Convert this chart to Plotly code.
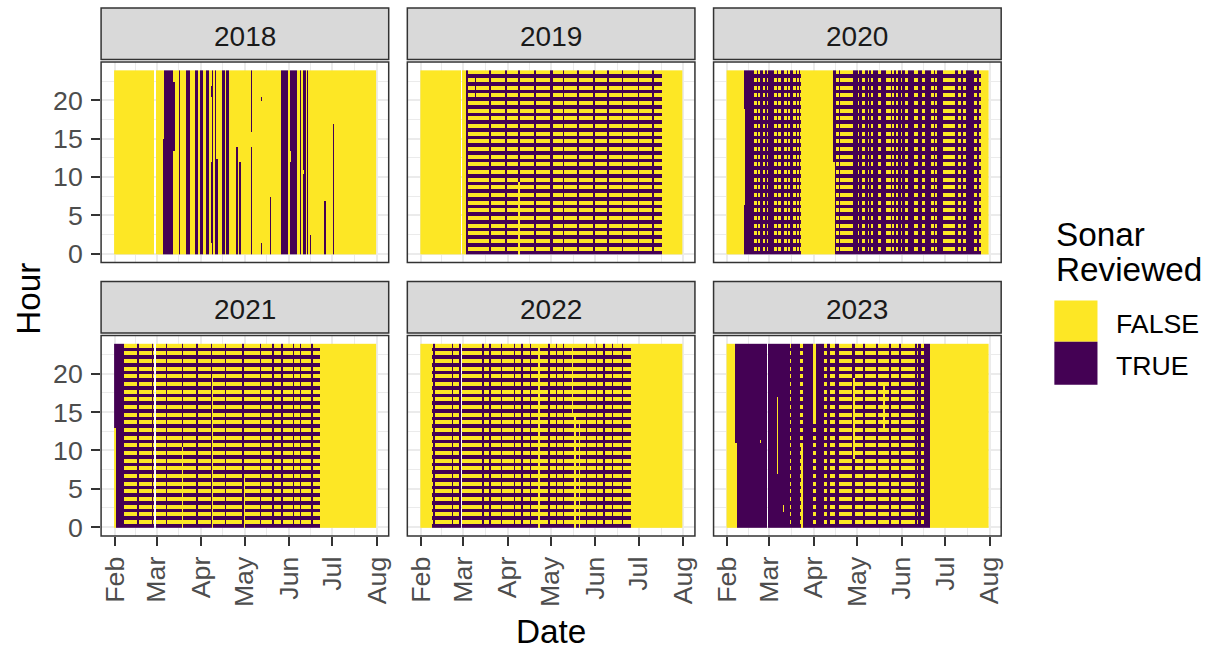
import numpy as np
import pandas as pd
import plotly.graph_objects as go

# ---------------------------------------------------------------------------
# Data: sonar review status per 10-minute file, Feb 1 - Jul 31 of each year
# ---------------------------------------------------------------------------
YEARS = [2018, 2019, 2020, 2021, 2022, 2023]
MONTH_TICKS = ["Feb", "Mar", "Apr", "May", "Jun", "Jul", "Aug"]
HOUR_TICKS = [0, 5, 10, 15, 20]
STATUS_LABELS = ["FALSE", "TRUE"]
STATUS_COLORS = ["#FDE725", "#440154"]

# Runs of days (first MM-DD, last MM-DD, mode); later runs override earlier ones.
#   "all"  - every file of the day reviewed
#   "half" - first half of every hour reviewed (:00, :10, :20)
#   "none" - nothing reviewed (the default)
DAY_RUNS = {
    2018: [
        ("03-07", "03-12", "all"), ("03-17", "03-17", "all"), ("03-22", "03-24", "all"),
        ("03-28", "03-29", "all"), ("04-01", "04-02", "all"), ("04-05", "04-06", "all"),
        ("04-09", "04-09", "all"), ("04-11", "04-11", "all"), ("04-16", "04-17", "all"),
        ("04-19", "04-20", "all"), ("05-27", "05-31", "all"), ("06-02", "06-06", "all"),
        ("06-09", "06-09", "all"), ("06-11", "06-12", "all"), ("06-14", "06-14", "all"),
    ],
    2019: [
        ("03-04", "07-17", "half"),
        ("03-04", "03-04", "all"), ("03-20", "03-20", "all"), ("03-31", "03-31", "all"),
        ("04-09", "04-09", "all"), ("04-20", "04-20", "all"), ("05-01", "05-02", "all"),
        ("05-10", "05-10", "all"), ("05-20", "05-20", "all"), ("05-31", "05-31", "all"),
        ("06-10", "06-10", "all"), ("06-20", "06-20", "all"), ("07-01", "07-01", "all"),
        ("07-11", "07-11", "all"),
    ],
    2020: [
        ("02-13", "03-23", "all"),
        ("02-20", "02-21", "half"), ("02-23", "02-23", "half"), ("02-26", "02-27", "half"),
        ("02-29", "02-29", "half"), ("03-05", "03-06", "half"), ("03-08", "03-09", "half"),
        ("03-12", "03-13", "half"), ("03-15", "03-15", "half"), ("03-18", "03-19", "half"),
        ("03-21", "03-21", "half"), ("03-23", "03-23", "half"),
        ("04-16", "07-26", "all"),
        ("04-17", "04-18", "half"), ("04-20", "04-28", "half"), ("05-02", "05-02", "half"),
        ("05-05", "05-06", "half"), ("05-09", "05-09", "half"), ("05-11", "05-12", "half"),
        ("05-16", "05-17", "half"), ("05-22", "05-24", "half"), ("05-26", "05-26", "half"),
        ("05-29", "05-29", "half"), ("06-01", "06-01", "half"), ("06-04", "06-05", "half"),
        ("06-10", "06-12", "half"), ("06-16", "06-17", "half"), ("06-22", "06-23", "half"),
        ("06-25", "06-25", "half"), ("06-30", "07-08", "half"), ("07-11", "07-12", "half"),
        ("07-14", "07-15", "half"), ("07-22", "07-23", "half"), ("07-25", "07-26", "half"),
    ],
    2021: [
        ("02-01", "02-07", "all"),
        ("02-08", "06-22", "half"),
        ("02-17", "02-17", "all"), ("02-27", "02-27", "all"), ("03-08", "03-08", "all"),
        ("03-19", "03-19", "all"), ("03-29", "03-29", "all"), ("04-08", "04-08", "all"),
        ("04-18", "04-18", "all"), ("04-30", "04-30", "all"), ("05-12", "05-12", "all"),
        ("05-21", "05-21", "all"), ("05-27", "05-27", "all"), ("06-04", "06-04", "all"),
        ("06-09", "06-09", "all"), ("06-17", "06-17", "all"),
    ],
    2022: [
        ("02-09", "06-25", "half"),
        ("02-10", "02-10", "all"), ("02-23", "02-23", "all"), ("02-28", "02-28", "all"),
        ("03-15", "03-15", "all"), ("03-20", "03-20", "all"), ("03-28", "03-28", "all"),
        ("04-06", "04-06", "all"), ("04-11", "04-11", "all"), ("04-17", "04-17", "all"),
        ("04-30", "04-30", "all"), ("05-05", "05-05", "all"), ("05-10", "05-10", "all"),
        ("05-26", "05-26", "all"), ("06-02", "06-02", "all"), ("06-07", "06-07", "all"),
        ("06-13", "06-13", "all"), ("06-20", "06-20", "all"),
        ("04-23", "04-23", "none"),
    ],
    2023: [
        ("02-08", "03-15", "all"), ("03-16", "03-16", "half"), ("03-17", "03-22", "all"),
        ("03-23", "03-24", "half"), ("03-25", "03-31", "all"), ("04-01", "04-02", "half"),
        ("04-03", "04-08", "all"), ("04-09", "04-10", "half"), ("04-11", "04-12", "all"),
        ("04-13", "04-15", "half"), ("04-16", "04-18", "all"), ("04-19", "04-27", "half"),
        ("04-28", "04-29", "all"), ("04-30", "05-05", "half"), ("05-06", "05-06", "all"),
        ("05-07", "05-14", "half"), ("05-15", "05-15", "all"), ("05-16", "05-23", "half"),
        ("05-24", "05-24", "all"), ("05-25", "05-30", "half"), ("05-31", "05-31", "all"),
        ("06-01", "06-10", "half"), ("06-11", "06-14", "all"), ("06-12", "06-12", "half"),
        ("06-15", "06-16", "half"), ("06-17", "06-20", "all"),
    ],
}

# Partial days: (MM-DD, from hour, to hour, reviewed)
HOUR_PATCHES = {
    2018: [
        ("03-06", 0, 15, True), ("03-13", 13.5, 22.5, True), ("04-08", 1.5, 12, True),
        ("04-08", 20.5, 22, True), ("04-12", 0, 12.5, True), ("04-26", 0, 14, True),
        ("04-28", 0, 12, True), ("05-06", 0, 14, True), ("05-06", 16, 24, True),
        ("05-13", 0, 1.5, True), ("05-13", 20, 20.5, True), ("05-19", 0, 7.5, True),
        ("06-02", 12, 13.5, False), ("06-11", 10.5, 11, False), ("06-16", 0, 2.5, True),
        ("06-26", 0, 7, True), ("07-02", 0, 17, True),
    ],
    2019: [("03-10", 20.5, 23, True), ("04-09", 0, 9.5, False)],
    2020: [("02-13", 6.5, 19, False), ("04-15", 12, 24, True)],
    2021: [("02-01", 0, 13, False), ("03-19", 0, 10.5, False), ("04-09", 0, 19.5, False),
           ("05-01", 0, 6.5, False)],
    2022: [("05-16", 14.5, 24, False), ("05-18", 0, 14.5, False), ("05-21", 0, 14, False)],
    2023: [("02-07", 11, 24, True), ("02-24", 11, 11.5, False), ("03-07", 7, 17, False),
           ("03-11", 2, 3, False), ("03-24", 0, 11, False), ("04-01", 13.5, 24, False),
           ("04-02", 13.5, 24, False), ("04-29", 9, 19.5, False), ("05-20", 13, 18.5, False)],
}

# ---------------------------------------------------------------------------
# Build the grids on a shared leap-year calendar (Feb 29 stays empty in other years)
# ---------------------------------------------------------------------------
REF_YEAR = 2020
season = pd.date_range(f"{REF_YEAR}-02-01", f"{REF_YEAR}-07-31", freq="D")
column_of = {d.strftime("%m-%d"): i for i, d in enumerate(season)}
day_pos = np.arange(len(season))
hours = np.arange(144) / 6.0                     # 10-minute files
first_half = (np.arange(144) % 6) < 3
month_pos = [(pd.Timestamp(f"{REF_YEAR}-{m:02d}-01") - season[0]).days for m in range(2, 9)]
month_mid = [(a + b) / 2 for a, b in zip(month_pos[:-1], month_pos[1:])]


def year_grid(year):
    z = np.full((len(hours), len(season)), np.nan)
    status = {d.strftime("%m-%d"): "none"
              for d in pd.date_range(f"{year}-02-01", f"{year}-07-31", freq="D")}
    for start, end, mode in DAY_RUNS[year]:
        for d in pd.date_range(f"{year}-{start}", f"{year}-{end}", freq="D"):
            status[d.strftime("%m-%d")] = mode
    for md, mode in status.items():
        c = column_of[md]
        if mode == "all":
            z[:, c] = 1
        elif mode == "half":
            z[:, c] = first_half.astype(float)
        else:
            z[:, c] = 0
    for md, h0, h1, flag in HOUR_PATCHES.get(year, []):
        rows = (hours >= h0 - 1e-9) & (hours < h1 - 1e-9)
        z[rows, column_of[md]] = 1.0 if flag else 0.0
    return z


# ---------------------------------------------------------------------------
# Layout geometry (pixels)
# ---------------------------------------------------------------------------
W, H = 1217, 650
FONT = "Liberation Sans, Arial, sans-serif"
COL_X = [(99.5, 388.3), (407.0, 695.8), (714.5, 1003.3)]
ROW_Y = [(62.7, 265.0), (338.7, 541.0)]
STRIP_Y = [(8.0, 60.0), (284.0, 336.0)]
X_RANGE = [-9.53, 190.0]
Y_RANGE = [-1.156, 24.99]


def fx(p):
    return p / W


def fy(p):
    return 1 - p / H


colorscale = [[0, STATUS_COLORS[0]], [0.5, STATUS_COLORS[0]],
              [0.5, STATUS_COLORS[1]], [1, STATUS_COLORS[1]]]

fig = go.Figure()
shapes, annotations = [], []
layout_axes = {}

for i, year in enumerate(YEARS):
    r, c = divmod(i, 3)
    k = "" if i == 0 else str(i + 1)
    fig.add_trace(go.Heatmap(
        x=day_pos, y=hours, z=year_grid(year),
        colorscale=colorscale, zmin=0, zmax=1, showscale=False,
        hoverongaps=False, xaxis="x" + k, yaxis="y" + k,
    ))
    x0, x1 = COL_X[c]
    y0, y1 = ROW_Y[r]
    bottom = r == 1
    left = c == 0
    layout_axes["xaxis" + k] = dict(
        domain=[fx(x0), fx(x1)], anchor="y" + k, range=X_RANGE,
        tickmode="array", tickvals=month_pos, ticktext=MONTH_TICKS,
        showticklabels=bottom, ticks="outside" if bottom else "",
        ticklen=9, tickwidth=2, tickcolor="#333333", tickangle=-90,
        tickfont=dict(family=FONT, size=26.7, color="#4D4D4D"),
        showgrid=True, gridcolor="#EBEBEB", gridwidth=2,
        minor=dict(tickvals=month_mid, showgrid=True, gridcolor="#EBEBEB", gridwidth=1.2),
        zeroline=False, showline=False, fixedrange=True,
    )
    layout_axes["yaxis" + k] = dict(
        domain=[fy(y1), fy(y0)], anchor="x" + k, range=Y_RANGE,
        tickmode="array", tickvals=HOUR_TICKS,
        showticklabels=left, ticks="outside" if left else "",
        ticklen=9, tickwidth=2, tickcolor="#333333", ticklabelstandoff=3,
        tickfont=dict(family=FONT, size=26.7, color="#4D4D4D"),
        showgrid=True, gridcolor="#EBEBEB", gridwidth=2,
        minor=dict(tickvals=[2.5, 7.5, 12.5, 17.5, 22.5], showgrid=True,
                   gridcolor="#EBEBEB", gridwidth=1.2),
        zeroline=False, showline=False, fixedrange=True,
    )
    # panel border
    shapes.append(dict(type="rect", xref="paper", yref="paper",
                       x0=fx(x0), x1=fx(x1), y0=fy(y1), y1=fy(y0),
                       line=dict(color="#333333", width=1.5), fillcolor="rgba(0,0,0,0)",
                       layer="above"))
    # facet strip
    s0, s1 = STRIP_Y[r]
    shapes.append(dict(type="rect", xref="paper", yref="paper",
                       x0=fx(x0), x1=fx(x1), y0=fy(s1), y1=fy(s0),
                       line=dict(color="#333333", width=1.5), fillcolor="#D9D9D9",
                       layer="above"))
    annotations.append(dict(text=str(year), xref="paper", yref="paper",
                            x=fx((x0 + x1) / 2), y=fy((s0 + s1) / 2 + 2.5),
                            xanchor="center", yanchor="middle", showarrow=False,
                            font=dict(family=FONT, size=28, color="#1A1A1A")))

# axis titles
annotations.append(dict(text="Date", xref="paper", yref="paper",
                        x=fx((COL_X[0][0] + COL_X[2][1]) / 2), y=fy(637.0),
                        xanchor="center", yanchor="middle", showarrow=False,
                        font=dict(family=FONT, size=33.3, color="#000000")))
annotations.append(dict(text="Hour", xref="paper", yref="paper",
                        x=fx(25.8), y=fy((ROW_Y[0][0] + ROW_Y[1][1]) / 2),
                        xanchor="center", yanchor="middle", showarrow=False, textangle=-90,
                        font=dict(family=FONT, size=33.3, color="#000000")))

# legend
for text, yc in [("Sonar", 237.0), ("Reviewed", 272.0)]:
    annotations.append(dict(text=text, xref="paper", yref="paper",
                            x=fx(1056.5), y=fy(yc), xanchor="left", yanchor="middle",
                            showarrow=False,
                            font=dict(family=FONT, size=33.3, color="#000000")))
key_rows = [(303.3, 345.0, 327.5), (345.0, 388.3, 369.5)]
for (k0, k1, yc), label, color in zip(key_rows, STATUS_LABELS, STATUS_COLORS):
    shapes.append(dict(type="rect", xref="paper", yref="paper",
                       x0=fx(1056.7), x1=fx(1100.0), y0=fy(k1), y1=fy(k0),
                       line=dict(width=0), fillcolor=color, layer="above"))
    annotations.append(dict(text=label, xref="paper", yref="paper",
                            x=fx(1117.0), y=fy(yc), xanchor="left", yanchor="middle",
                            showarrow=False,
                            font=dict(family=FONT, size=26.7, color="#000000")))

fig.update_layout(
    width=W, height=H, margin=dict(l=0, r=0, t=0, b=0),
    paper_bgcolor="white", plot_bgcolor="white",
    showlegend=False, shapes=shapes, annotations=annotations,
    **layout_axes,
)

fig.write_html("out.html")
